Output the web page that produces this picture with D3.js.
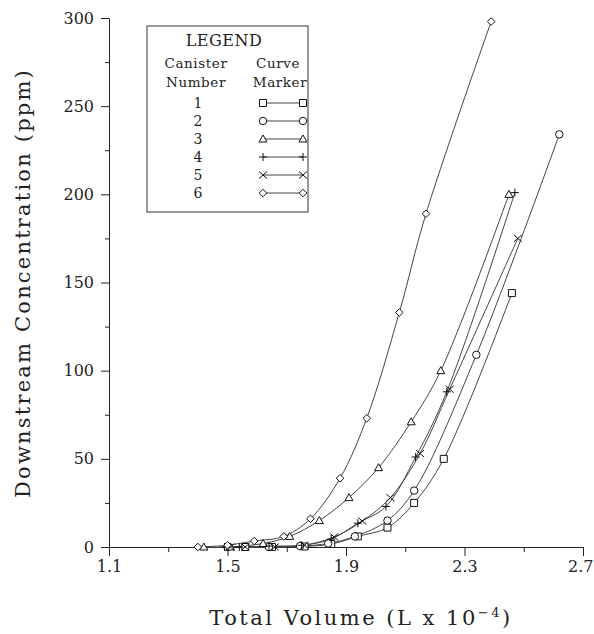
<!DOCTYPE html>
<html><head><meta charset="utf-8">
<script src="https://cdn.jsdelivr.net/npm/d3@7"></script>
<style>
html,body{margin:0;padding:0;background:#fff;}
text{font-family:"DejaVu Serif",serif;fill:#222;}
</style></head>
<body><svg id="c" width="594" height="634"></svg>
<script>
// ---- data (Total volume in L x 10^-4, concentration in ppm) ----
const canister1 = [[1.56,0],[1.65,0],[1.76,0.3],[1.85,1.7],[1.94,6],[2.04,11],[2.13,25],[2.23,50],[2.46,144]];
const canister2 = [[1.50,0],[1.64,0],[1.745,0.5],[1.84,2],[1.93,6],[2.04,15],[2.13,32],[2.34,109],[2.62,234]];
const canister3 = [[1.42,0],[1.51,0],[1.62,2],[1.71,6],[1.81,15],[1.91,28],[2.01,45],[2.12,71],[2.22,100],[2.45,200]];
const canister4 = [[1.49,0],[1.54,0],[1.64,0.5],[1.75,1],[1.85,4.5],[1.94,13.5],[2.035,23],[2.135,51],[2.24,88],[2.47,201]];
const canister5 = [[1.51,0],[1.56,0],[1.66,0],[1.76,1],[1.86,5.7],[1.955,14.7],[2.05,28],[2.15,53],[2.25,89.5],[2.48,175]];
const canister6 = [[1.40,0],[1.50,1],[1.59,3.4],[1.69,6],[1.78,16],[1.88,39],[1.97,73],[2.08,133],[2.17,189],[2.39,298]];
const canisterNumbers = ["1","2","3","4","5","6"];
const xMajorTicks = [1.1,1.5,1.9,2.3,2.7];
const xMinorTicks = [1.3,1.7,2.1,2.5];
const yMajorTicks = [0,50,100,150,200,250,300];
const yMinorTicks = [25,75,125,175,225,275];

const series = [canister1,canister2,canister3,canister4,canister5,canister6];
const markerPaths = [
  "M-3.5,-3.5h7v7h-7z",
  d3.symbol(d3.symbolCircle, 44)(),
  "M0,-4L4,3H-4Z",
  "M-4,0H4M0,-4V4",
  "M-4,-3.5L4,3.5M-4,3.5L4,-3.5",
  "M0,-3.8L3.8,0L0,3.8L-3.8,0Z"
];

const svg = d3.select("#c");
const x = d3.scaleLinear().domain([1.1,2.7]).range([109,583]);
const y = d3.scaleLinear().domain([0,300]).range([547,18]);

// axes
const gx = svg.append("g").attr("transform","translate(0,547)")
  .call(d3.axisBottom(x).tickValues(xMajorTicks).tickSize(9).tickSizeOuter(0).tickFormat(d3.format(".1f")));
svg.append("g").attr("transform","translate(0,547)")
  .call(d3.axisBottom(x).tickValues(xMinorTicks).tickSize(5).tickFormat("")).select(".domain").remove();
const gy = svg.append("g").attr("transform","translate(109,0)")
  .call(d3.axisLeft(y).tickValues(yMajorTicks).tickSize(8).tickSizeOuter(0));
svg.append("g").attr("transform","translate(109,0)")
  .call(d3.axisLeft(y).tickValues(yMinorTicks).tickSize(4).tickFormat("")).select(".domain").remove();
svg.selectAll(".domain, .tick line").attr("stroke","#222").attr("stroke-width",1);
gx.selectAll("text").attr("font-size",16).attr("y",14).attr("font-family","DejaVu Serif").attr("fill","#222");
gx.selectAll(".tick text").filter(d=>d===2.7).attr("text-anchor","end").attr("x",10);
gy.selectAll("text").attr("font-size",16).attr("x",-15).attr("font-family","DejaVu Serif").attr("fill","#222");

// axis titles
svg.append("text").attr("x",361).attr("y",625).attr("text-anchor","middle")
  .attr("font-size",21).attr("letter-spacing",2.5)
  .html('Total Volume (L x 10<tspan dy="-8" font-size="13">−4</tspan><tspan dy="8">)</tspan>');
svg.append("text").attr("transform","translate(30,283) rotate(-90)").attr("text-anchor","middle")
  .attr("font-size",21).attr("letter-spacing",2.2)
  .text("Downstream Concentration (ppm)");

// curves
const line = d3.line().x(d=>x(d[0])).y(d=>y(d[1])).curve(d3.curveCatmullRom.alpha(0.5));
series.forEach((s,i)=>{
  svg.append("path").datum(s).attr("d",line).attr("fill","none")
    .attr("stroke","#444").attr("stroke-width",1);
});
series.forEach((s,i)=>{
  svg.append("g").selectAll("path").data(s).join("path")
    .attr("transform",d=>`translate(${x(d[0])},${y(d[1])})`)
    .attr("d",markerPaths[i]).attr("fill","#fff").attr("fill-opacity",i===3||i===4?0:1)
    .attr("stroke","#111").attr("stroke-width",1);
});

// legend
const lg = svg.append("g");
lg.append("rect").attr("x",147).attr("y",26).attr("width",161).attr("height",186)
  .attr("fill","#fff").attr("stroke","#333").attr("stroke-width",1);
lg.append("text").attr("x",224).attr("y",46).attr("text-anchor","middle").attr("font-size",16).attr("letter-spacing",0.5).text("LEGEND");
lg.append("text").attr("x",196).attr("y",68).attr("text-anchor","middle").attr("font-size",13.5).attr("letter-spacing",0.6).text("Canister");
lg.append("text").attr("x",196).attr("y",87).attr("text-anchor","middle").attr("font-size",13.5).attr("letter-spacing",0.6).text("Number");
lg.append("text").attr("x",278).attr("y",68).attr("text-anchor","middle").attr("font-size",13.5).attr("letter-spacing",0.6).text("Curve");
lg.append("text").attr("x",280).attr("y",87).attr("text-anchor","middle").attr("font-size",13.5).attr("letter-spacing",0.6).text("Marker");
const rowY = d3.scalePoint().domain(canisterNumbers).range([103,193]);
canisterNumbers.forEach((n,i)=>{
  const yy = rowY(n);
  lg.append("text").attr("x",198).attr("y",yy+5).attr("text-anchor","middle").attr("font-size",14).text(n);
  lg.append("line").attr("x1",263).attr("x2",303).attr("y1",yy).attr("y2",yy).attr("stroke","#444");
  [263,303].forEach(px=>{
    lg.append("path").attr("transform",`translate(${px},${yy})`).attr("d",markerPaths[i])
      .attr("fill","#fff").attr("fill-opacity",i===3||i===4?0:1).attr("stroke","#111");
  });
});
</script></body></html>
